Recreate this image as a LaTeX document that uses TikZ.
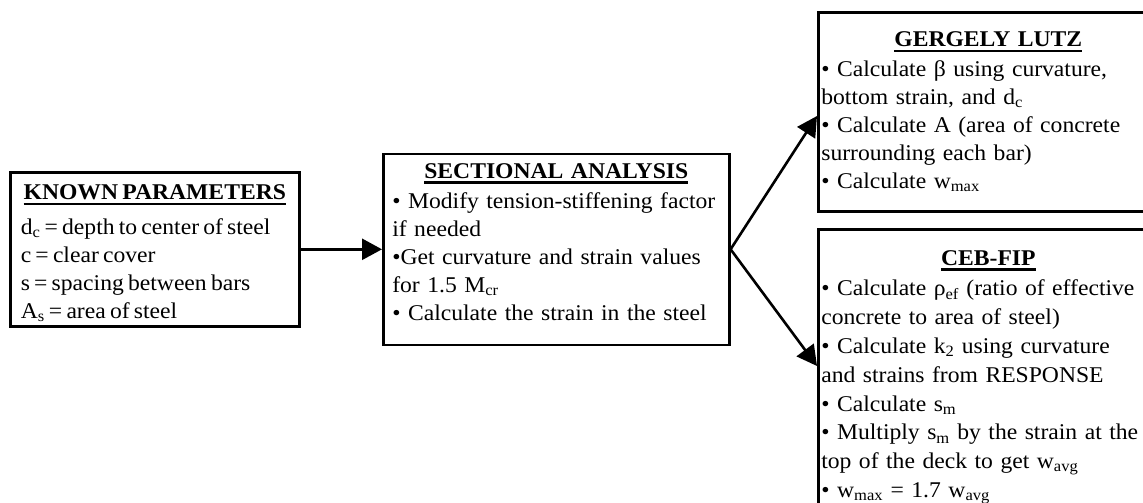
\documentclass[tikz,border=0pt]{standalone}
\usepackage{fontspec}
\setmainfont{Liberation Serif}[FakeStretch=1.05]
\usetikzlibrary{arrows.meta,calc}

\newsavebox{\hdbox}
\newcommand{\hd}[2][2pt]{\sbox{\hdbox}{\textbf{#2}}%
  {\centering\rlap{\usebox{\hdbox}}\rule[-5.4pt]{\wd\hdbox}{2.4pt}\par}\vspace{#1}}
\newcommand{\sub}[1]{\textsubscript{#1}}
\newcommand{\deep}[1]{\rule[-#1]{0pt}{0pt}}
\newcommand{\tall}[1]{\rule{0pt}{#1}}

\begin{document}
\begin{tikzpicture}[x=1pt, y=-1pt,
  box/.style={draw, line width=2.6pt, anchor=north west, align=left,
    font=\fontsize{22.5}{28}\selectfont, inner ysep=0pt, inner xsep=3pt},
  tight/.style={execute at begin node={\spaceskip=4.2pt plus 1pt minus 1pt\relax}},
  arr/.style={-{Triangle[length=20pt,width=21pt]}, line width=2.6pt},
]
\clip (0,0) rectangle (1143,503);

\node[box, tight, text width=280pt, minimum width=289pt, minimum height=154pt]
  (known) at (9,171)
  {\hd[7pt]{\tall{23pt}KNOWN PARAMETERS}
   \hspace*{6pt}d\sub{c} = depth to center of steel\\
   \hspace*{6pt}c = clear cover\\
   \hspace*{6pt}s = spacing between bars\\
   \hspace*{6pt}A\sub{s} = area of steel};

\node[box, text width=336pt, minimum width=346pt, minimum height=191pt]
  (sect) at (382,152.5)
  {\hd{SECTIONAL ANALYSIS}
   \hspace*{4pt}• Modify tension-stiffening factor\\
   \hspace*{4pt}if needed\\
   \hspace*{4pt}•Get curvature and strain values\\
   \hspace*{4pt}for 1.5 M\sub{cr}\\
   \hspace*{4pt}• Calculate the strain in the steel\deep{15pt}};

\node[box, text width=334pt, minimum height=199pt]
  (gl) at (817,11)
  {\hd{GERGELY LUTZ}
   • Calculate β using curvature,\\
   bottom strain, and d\sub{c}\\
   • Calculate A (area of concrete\\
   surrounding each bar)\\
   • Calculate w\sub{max}};

\node[box, text width=334pt, inner ysep=21pt,
  font=\fontsize{22.5}{28.8}\selectfont] (ceb) at (817,228)
  {\hd{CEB-FIP}
   • Calculate ρ\sub{ef} (ratio of effective\\
   concrete to area of steel)\\
   • Calculate k\sub{2} using curvature\\
   and strains from RESPONSE\\
   • Calculate s\sub{m}\\
   • Multiply s\sub{m} by the strain at the\\
   top of the deck to get w\sub{avg}\\
   • w\sub{max} = 1.7 w\sub{avg}\deep{60pt}};

\draw[arr] (known.east) -- (sect.west);
\draw[arr] (sect.east) -- ([yshift=-105pt]gl.north west);
\draw[arr] (sect.east) -- ([yshift=-138pt]ceb.north west);

\end{tikzpicture}
\end{document}
